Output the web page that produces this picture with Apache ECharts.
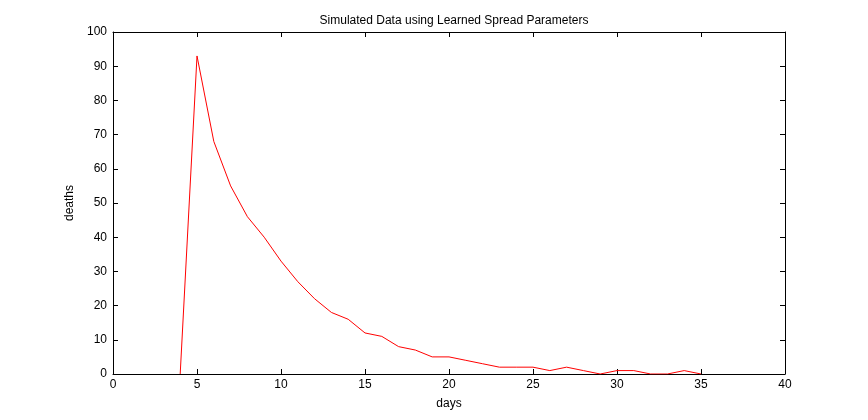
<!DOCTYPE html>
<html><head><meta charset="utf-8">
<script src="https://cdn.jsdelivr.net/npm/echarts@6/dist/echarts.min.js"></script>
<style>html,body{margin:0;padding:0;background:#fff}#c{width:868px;height:420px}</style>
</head><body><div id="c"></div>
<script>
const days = [4,5,6,7,8,9,10,11,12,13,14,15,16,17,18,19,20,21,22,23,24,25,26,27,28,29,30,31,32,33,34,35];
const deaths = [0,93,68,55,46,40,33,27,22,18,16,12,11,8,7,5,5,4,3,2,2,2,1,2,1,0,1,1,0,0,1,0];
const xTicks = [0,5,10,15,20,25,30,35,40];
const yTicks = [0,10,20,30,40,50,60,70,80,90,100];

const font = 'Liberation Sans, Arial, sans-serif';
const chart = echarts.init(document.getElementById('c'), null, {renderer:'canvas'});
const axLine = {show:true, onZero:false, lineStyle:{color:'#000', width:1}};
const tick = {show:true, inside:true, length:5, lineStyle:{color:'#000'}};
chart.setOption({
  animation:false,
  backgroundColor:'#fff',
  title:{text:'Simulated Data using Learned Spread Parameters', left:449, top:10, textAlign:'center',
    textStyle:{fontFamily:font, fontSize:12, fontWeight:'normal', color:'#000'}},
  grid:{left:113, right:83, top:32, bottom:46},
  xAxis:[{type:'value', min:xTicks[0], max:xTicks[xTicks.length-1], interval:5, position:'bottom',
    name:'days', nameLocation:'middle', nameGap:24, nameTextStyle:{fontFamily:font,fontSize:12,color:'#000'},
    axisLine:axLine, axisTick:tick, splitLine:{show:false},
    axisLabel:{fontFamily:font, fontSize:12, color:'#000', margin:5}},
   {type:'value', min:0, max:40, interval:5, position:'top', axisLine:axLine, axisTick:tick,
    splitLine:{show:false}, axisLabel:{show:false}}],
  yAxis:[{type:'value', min:yTicks[0], max:yTicks[yTicks.length-1], interval:10, position:'left',
    name:'deaths', nameLocation:'middle', nameGap:31, nameTextStyle:{fontFamily:font,fontSize:12,color:'#000'},
    axisLine:axLine, axisTick:tick, splitLine:{show:false},
    axisLabel:{fontFamily:font, fontSize:12, color:'#000', margin:6}},
   {type:'value', min:0, max:100, interval:10, position:'right', axisLine:axLine, axisTick:tick,
    splitLine:{show:false}, axisLabel:{show:false}}],
  series:[{type:'line', data:days.map((d,i)=>[d,deaths[i]]), showSymbol:false, symbol:'none',
    lineStyle:{color:'#ff0000', width:1}, itemStyle:{color:'#ff0000'}, z:1}]
});
</script></body></html>
